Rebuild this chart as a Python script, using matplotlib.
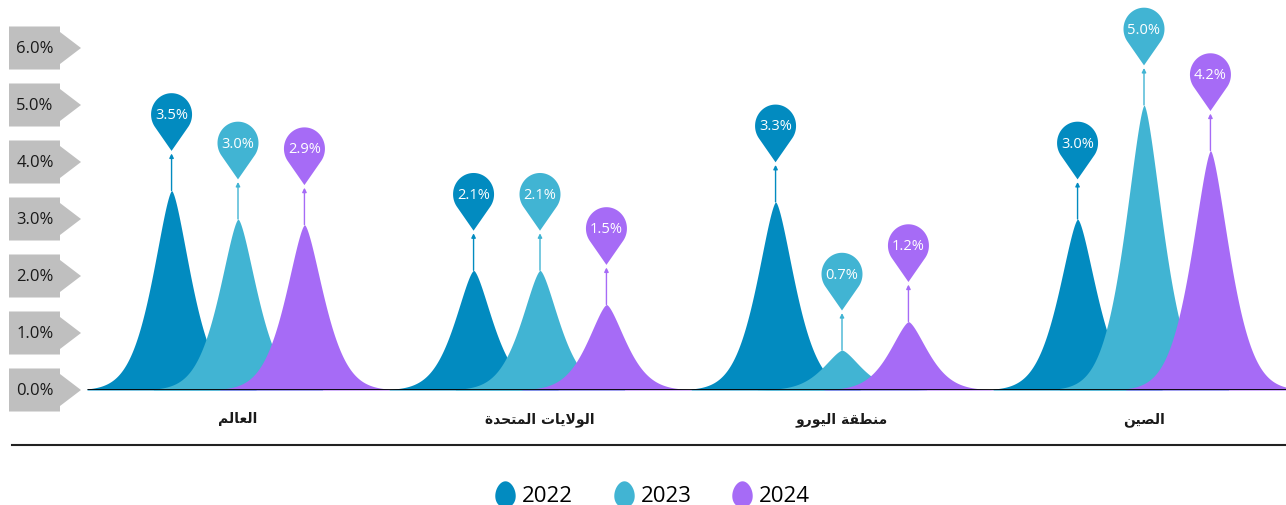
import numpy as np
import matplotlib.pyplot as plt
import matplotlib.transforms as mtransforms
from matplotlib.path import Path
from matplotlib.patches import Polygon
from matplotlib.lines import Line2D

# data
regions = ['العالم', 'الولايات المتحدة', 'منطقة اليورو', 'الصين']
years = ['2022', '2023', '2024']
growth_2022 = [3.5, 2.1, 3.3, 3.0]
growth_2023 = [3.0, 2.1, 0.7, 5.0]
growth_2024 = [2.9, 1.5, 1.2, 4.2]
y_ticks = [0, 1, 2, 3, 4, 5, 6]

colors = ['#028bc0', '#41b4d3', '#a66bf6']
series = [growth_2022, growth_2023, growth_2024]

# Arabic presentation forms: isolated, final, initial, medial
FORMS = {
    'ا': ('\uFE8D', '\uFE8E', None, None),
    'ت': ('\uFE95', '\uFE96', '\uFE97', '\uFE98'),
    'ة': ('\uFE93', '\uFE94', None, None),
    'ح': ('\uFEA1', '\uFEA2', '\uFEA3', '\uFEA4'),
    'د': ('\uFEA9', '\uFEAA', None, None),
    'ر': ('\uFEAD', '\uFEAE', None, None),
    'ص': ('\uFEB9', '\uFEBA', '\uFEBB', '\uFEBC'),
    'ط': ('\uFEC1', '\uFEC2', '\uFEC3', '\uFEC4'),
    'ع': ('\uFEC9', '\uFECA', '\uFECB', '\uFECC'),
    'ق': ('\uFED5', '\uFED6', '\uFED7', '\uFED8'),
    'ل': ('\uFEDD', '\uFEDE', '\uFEDF', '\uFEE0'),
    'م': ('\uFEE1', '\uFEE2', '\uFEE3', '\uFEE4'),
    'ن': ('\uFEE5', '\uFEE6', '\uFEE7', '\uFEE8'),
    'و': ('\uFEED', '\uFEEE', None, None),
    'ي': ('\uFEF1', '\uFEF2', '\uFEF3', '\uFEF4'),
}


def shape_arabic(text):
    # matplotlib does no Arabic shaping, so join letters by hand and flip to visual order
    out = []
    prev_joins = False
    i = 0
    n = len(text)
    while i < n:
        c = text[i]
        forms = FORMS.get(c)
        if forms is None:
            out.append(c)
            prev_joins = False
            i += 1
            continue
        if c == 'ل' and i + 1 < n and text[i + 1] == 'ا':
            out.append('\uFEFC' if prev_joins else '\uFEFB')
            prev_joins = False
            i += 2
            continue
        nxt = text[i + 1] if i + 1 < n else None
        joins_next = forms[2] is not None and nxt in FORMS
        if prev_joins and joins_next:
            g = forms[3]
        elif prev_joins:
            g = forms[1]
        elif joins_next:
            g = forms[2]
        else:
            g = forms[0]
        out.append(g)
        prev_joins = joins_next
        i += 1
    return ''.join(reversed(out))


def teardrop(r, d, npts=80):
    # circle of radius r centred at origin, tip at distance d below
    beta = np.arccos(r / d)
    ang = np.linspace(-np.pi / 2 + beta, 3 * np.pi / 2 - beta, npts)
    xs = np.r_[0, r * np.cos(ang), 0]
    ys = np.r_[-d, r * np.sin(ang), -d]
    return xs, ys


W, H, DPI = 1286, 506, 100
fig = plt.figure(figsize=(W / DPI, H / DPI), dpi=DPI)
plt.rcParams['font.family'] = ['Open Sans', 'DejaVu Sans']

base_px = 391          # baseline row in pixels
px_per_unit = 57       # pixels per 1 %
ax = fig.add_axes([0, (H - base_px) / H, 1, base_px / H])
group_w = 302
ax.set_xlim(-238 / group_w, (W - 238) / group_w)
ax.set_ylim(0, base_px / px_per_unit)
for s in ax.spines.values():
    s.set_visible(False)

offsets = [-0.22, 0.0, 0.22]
half_span = 0.28
a = 0.093

for j, (vals, col) in enumerate(zip(series, colors)):
    for i, v in enumerate(vals):
        xc = i + offsets[j]
        dx = np.linspace(-half_span, half_span, 300)
        ax.fill_between(xc + dx, 0, v * np.exp(-(np.abs(dx) / a) ** 1.5),
                        color=col, lw=0, zorder=2 + j)

        # arrow from the peak up to the pin
        up = mtransforms.offset_copy(ax.transData, fig=fig, x=0, y=37, units='dots')
        ax.annotate('', xy=(xc, v), xycoords=up, xytext=(xc, v), textcoords='data',
                    arrowprops=dict(arrowstyle='-|>', color=col, lw=1.0,
                                    mutation_scale=6, shrinkA=0, shrinkB=0),
                    zorder=6)

        # pin above the peak, built in inches so it stays round
        trans = fig.dpi_scale_trans + mtransforms.ScaledTranslation(xc, v, ax.transData)
        tx, ty = teardrop(0.205, 0.35)
        ty = ty * 1.04 + 0.76
        ax.add_patch(Polygon(np.c_[tx, ty], closed=True, facecolor=col, edgecolor='none',
                             transform=trans, zorder=7, clip_on=False))
        ax.text(0, 0.76, f'{v:.1f}%', transform=trans, ha='center', va='center',
                color='white', fontsize=10.5, zorder=8)

# baseline
ax.plot([offsets[0] - half_span, ax.get_xlim()[1]], [0, 0], color='black', lw=2,
        zorder=10, solid_capstyle='butt')

# grey arrow-shaped y tick labels
lab_trans_base = mtransforms.blended_transform_factory(fig.transFigure, ax.transData)
for t in y_ticks:
    trans = fig.dpi_scale_trans + mtransforms.ScaledTranslation(0, t, lab_trans_base)
    box = np.array([[9, -21.5], [60, -21.5], [60, -16], [81, 0], [60, 16],
                    [60, 21.5], [9, 21.5]]) / DPI
    ax.add_patch(Polygon(box, closed=True, facecolor='#bfbfbf', edgecolor='none',
                         transform=trans, clip_on=False, zorder=1))
    ax.text(35 / DPI, 0, f'{t:.1f}%', transform=trans, ha='center', va='center',
            fontsize=12, color='#1a1a1a', zorder=2, clip_on=False)

# category labels
ax.set_yticks([])
ax.set_xticks(range(len(regions)))
ax.set_xticklabels([shape_arabic(r) for r in regions], family='DejaVu Sans',
                   fontweight='bold', fontsize=10, color='#1a1a1a')
ax.tick_params(axis='x', length=0, pad=15)

# separator line under the labels
fig.add_artist(Line2D([12 / W, 1], [1 - 446 / H] * 2, transform=fig.transFigure,
                      color='#222222', lw=1.5))

# legend with egg-shaped markers
t = np.linspace(0, 2 * np.pi, 80)
egg = Path(np.c_[np.cos(t) * (1 - 0.12 * np.sin(t)), 1.3 * np.sin(t)])
handles = [Line2D([], [], marker=egg, markersize=19, linestyle='none',
                  markerfacecolor=c, markeredgecolor='none') for c in colors]
fig.legend(handles, years, loc='center', bbox_to_anchor=(652 / W, 1 - 497 / H),
           ncol=3, frameon=False, fontsize=16, handlelength=1.0, handletextpad=0.25,
           columnspacing=1.8, borderpad=0)

fig.savefig('out.png', dpi=DPI)
